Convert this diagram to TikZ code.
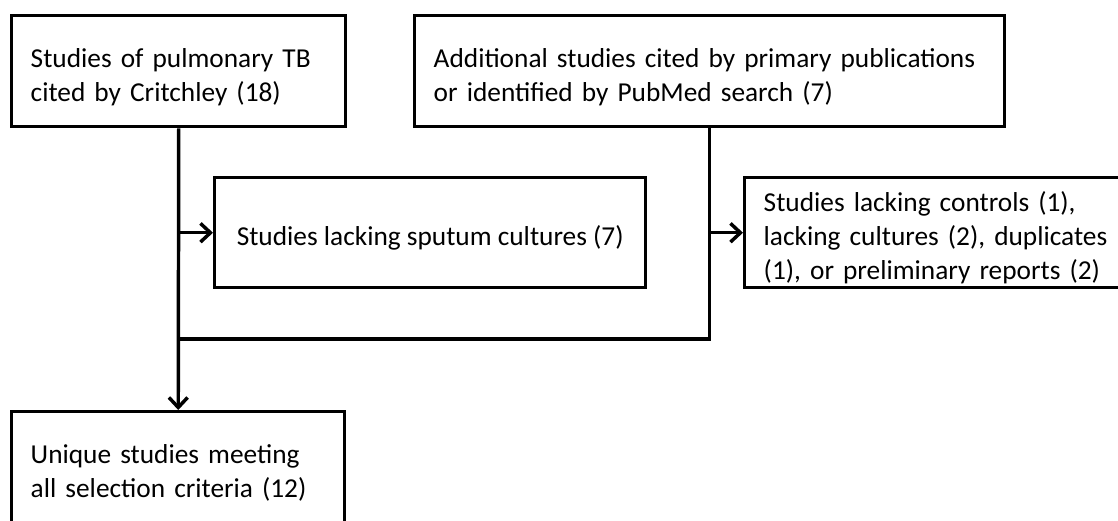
\documentclass[tikz,border=0pt]{standalone}
\usepackage{fontspec}
\setmainfont{Carlito}
\usetikzlibrary{arrows.meta}

\begin{document}
\begin{tikzpicture}[x = 0.75pt, y = -0.75pt,
  box/.style = {draw, line width = 2.6pt, anchor = north west, align = left,
    inner xsep = 14.25pt, inner ysep = 0pt, font = \fontsize{20.5pt}{25.5pt}\selectfont,
    execute at begin node = \rule{0pt}{23pt}},
  flow/.style = {line width = 2.6pt},
  arr/.style = {flow, -{Straight Barb[length = 7.5pt, width = 14pt]}}]
  \useasboundingbox (0, 0) rectangle (1118, 521);
  \clip (0, 0) rectangle (1118, 521);
  \fill[white] (0, 0) rectangle (1118, 521);
  \node[box, text width = 222pt, minimum height = 83.25pt] (crit) at (10, 14) {Studies of pulmonary TB\\cited by Critchley (18)};
  \node[box, text width = 414pt, minimum height = 83.25pt] (pubmed) at (413, 14) {Additional studies cited by primary publications\\or identified by PubMed search (7)};
  \node[box, minimum width = 323.25pt, minimum height = 82.5pt] (sputum) at (213, 176) {Studies lacking sputum cultures (7)};
  \node[box, text width = 270pt, minimum height = 82.5pt] (excl) at (743, 176) {Studies lacking controls (1),\\lacking cultures (2), duplicates\\(1), or preliminary reports (2)};
  \node[box, text width = 221.25pt, minimum height = 83.25pt] (final) at (10, 410) {Unique studies meeting\\all selection criteria (12)};
  \coordinate (merge) at (crit.south |- 0, 339);
  \draw[arr] (crit.south) -- (final.north);
  \draw[flow] (pubmed.south) |- (merge);
  \draw[arr] (crit.south |- sputum.west) -- (sputum.west);
  \draw[arr] (pubmed.south |- excl.west) -- (excl.west);
\end{tikzpicture}
\end{document}
